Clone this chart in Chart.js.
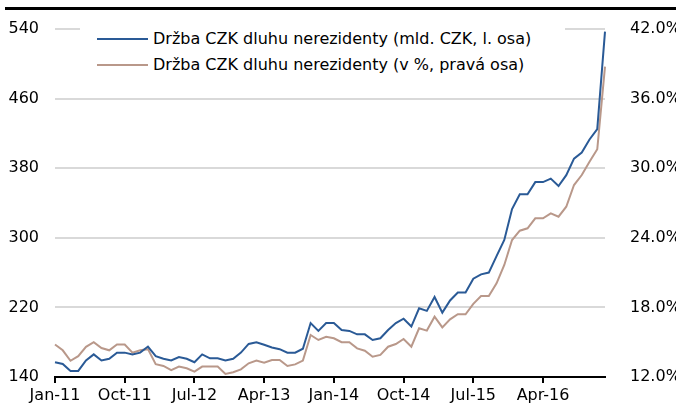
<!DOCTYPE html>
<html>
<head>
<meta charset="utf-8">
<script src="https://cdn.jsdelivr.net/npm/chart.js@4.4.1/dist/chart.umd.min.js"></script>
<style>
  body { margin: 0; background: #fff; }
  #wrap { position: relative; width: 676px; height: 414px; overflow: hidden; }
  #topbar { position: absolute; left: 5px; right: 0; top: 7px; height: 3px; background: #000; }
  #legend { position: absolute; left: 80px; top: 26px; width: 485px; background: #fff;
            font: 16px "DejaVu Sans", sans-serif; color: #000; }
  #legend .row { position: relative; height: 26px; line-height: 26px; padding-left: 73px; white-space: nowrap; }
  #legend .swatch { position: absolute; left: 17px; top: 12px; width: 51px; height: 2px; }
</style>
</head>
<body>
<div id="wrap">
  <canvas id="chart" width="676" height="414"></canvas>
  <div id="topbar"></div>
  <div id="legend"></div>
</div>
<script>
// monthly data, Jan-11 .. Dec-16
const months = ['Jan', 'Feb', 'Mar', 'Apr', 'May', 'Jun', 'Jul', 'Aug', 'Sep', 'Oct', 'Nov', 'Dec'];
const years = ['11', '12', '13', '14', '15', '16'];

const holdingsBn = [
    157, 155, 147, 147, 159, 166, 159, 161, 168, 168, 166, 168,
    175, 164, 161, 159, 163, 161, 157, 166, 161.5, 161.5, 159, 161,
    168, 178, 180, 177, 174, 172, 168, 168, 172.5, 202, 193, 202,
    202, 194, 193, 189, 189, 182.5, 184.5, 194, 202, 207, 198, 219,
    216, 232, 214, 228, 237, 237, 253, 258, 260, 279, 297.5, 333,
    350, 350, 364, 364, 368, 359.5, 372, 391, 398, 413, 425, 537
];

const holdingsPct = [
    14.8, 14.3, 13.4, 13.8, 14.6, 15.0, 14.5, 14.3, 14.8, 14.8, 14.1, 14.3,
    14.4, 13.1, 12.95, 12.6, 12.9, 12.75, 12.46, 12.9, 12.9, 12.9, 12.26, 12.41,
    12.66, 13.18, 13.41, 13.23, 13.47, 13.47, 12.95, 13.09, 13.41, 15.62, 15.19, 15.47,
    15.34, 15.0, 15.0, 14.47, 14.27, 13.75, 13.9, 14.61, 14.84, 15.28, 14.61, 16.2,
    16.0, 17.2, 16.28, 16.97, 17.41, 17.41, 18.3, 18.98, 18.98, 20.08, 21.66, 23.81,
    24.61, 24.82, 25.68, 25.68, 26.11, 25.82, 26.68, 28.55, 29.41, 30.56, 31.63, 38.75
];

const seriesNames = [
    'Držba CZK dluhu nerezidenty (mld. CZK, l. osa)',
    'Držba CZK dluhu nerezidenty (v %, pravá osa)'
];
const seriesColors = ['#2a5a96', '#b9988a'];

const labels = [];
years.forEach(y => months.forEach(m => labels.push(m + '-' + y)));

const font = { family: '"DejaVu Sans", sans-serif', size: 16 };

const chart = new Chart(document.getElementById('chart'), {
    type: 'line',
    data: {
        labels: labels,
        datasets: [
            {
                label: seriesNames[0],
                data: holdingsBn,
                yAxisID: 'y',
                borderColor: seriesColors[0],
                borderWidth: 2,
                pointRadius: 0,
                tension: 0
            },
            {
                label: seriesNames[1],
                data: holdingsPct,
                yAxisID: 'y1',
                borderColor: seriesColors[1],
                borderWidth: 2,
                pointRadius: 0,
                tension: 0
            }
        ]
    },
    options: {
        responsive: false,
        animation: false,
        layout: { padding: { top: 29, left: 0, right: 0, bottom: 0 } },
        plugins: {
            legend: { display: false },
            tooltip: { enabled: false }
        },
        scales: {
            x: {
                offset: false,
                grid: { drawOnChartArea: false, drawTicks: true, tickLength: 6, color: '#000', lineWidth: 2 },
                border: { color: '#000', width: 2 },
                ticks: {
                    autoSkip: false,
                    maxRotation: 0,
                    padding: 3,
                    color: '#000',
                    font: font,
                    callback: function (val, idx) {
                        return idx % 9 === 0 ? this.getLabelForValue(val) : null;
                    }
                },
                afterFit: s => { s.height = 37; }
            },
            y: {
                position: 'left',
                min: 140,
                max: 540,
                grid: { color: '#d9d9d9', lineWidth: 2, drawTicks: false },
                border: { display: false },
                ticks: { stepSize: 80, padding: 16, color: '#000', font: font },
                afterFit: s => { s.width = 55; }
            },
            y1: {
                position: 'right',
                min: 12,
                max: 42,
                grid: { display: false },
                border: { display: false },
                ticks: {
                    stepSize: 6,
                    padding: 17,
                    color: '#000',
                    font: font,
                    callback: v => v.toFixed(1) + '%'
                },
                afterFit: s => { s.width = 71; }
            }
        }
    }
});

// legend drawn over the plot, white box hides the top gridline like the original
const legendEl = document.getElementById('legend');
chart.data.datasets.forEach(ds => {
    const row = document.createElement('div');
    row.className = 'row';
    row.innerHTML = '<span class="swatch" style="background:' + ds.borderColor + '"></span>' + ds.label;
    legendEl.appendChild(row);
});
</script>
</body>
</html>
